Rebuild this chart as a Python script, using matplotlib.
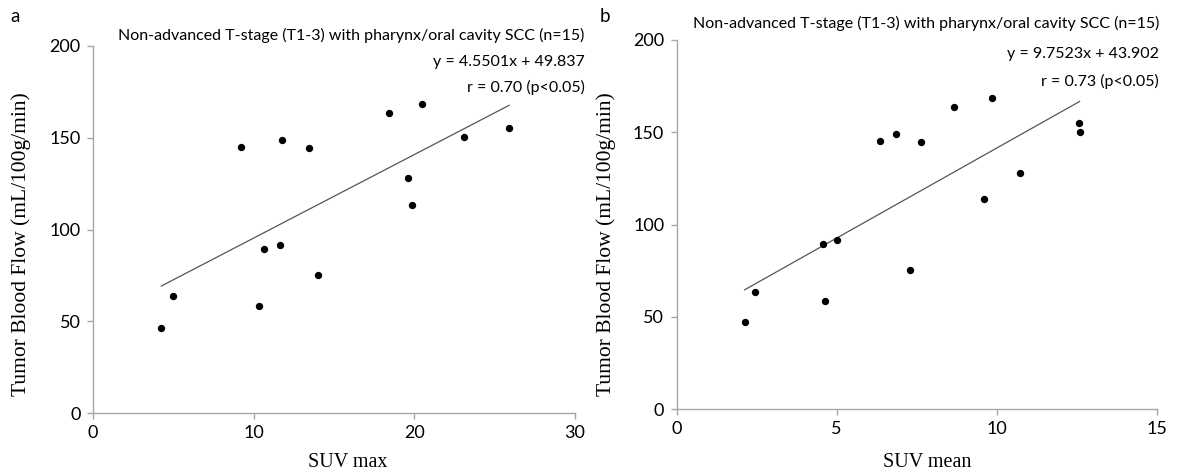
import numpy as np
import matplotlib
matplotlib.use('Agg')
import matplotlib.pyplot as plt

# panel a: SUV max vs tumor blood flow
suv_max = [4.25, 4.96, 9.23, 10.33, 10.66, 11.66, 11.76, 13.46, 14.0,
           18.44, 19.62, 19.83, 20.45, 23.1, 25.9]
tbf_a = [46.3, 63.6, 145.1, 58.5, 89.4, 91.4, 148.8, 144.2, 75.0,
         163.5, 128.1, 113.5, 168.6, 150.2, 155.3]
fit_a = (4.5501, 49.837)

# panel b: SUV mean vs tumor blood flow
suv_mean = [2.12, 2.46, 4.58, 4.64, 5.0, 6.35, 6.86, 7.30, 7.63,
            8.66, 9.59, 9.85, 10.74, 12.57, 12.59]
tbf_b = [47.0, 63.4, 89.6, 58.5, 91.6, 145.4, 148.9, 75.3, 144.5,
         163.7, 113.7, 168.4, 128.1, 155.0, 150.3]
fit_b = (9.7523, 43.902)

title = 'Non-advanced T-stage (T1-3) with pharynx/oral cavity SCC (n=15)'
eq_a = 'y = 4.5501x + 49.837'
r_a = 'r = 0.70 (p<0.05)'
eq_b = 'y = 9.7523x + 43.902'
r_b = 'r = 0.73 (p<0.05)'

W, H = 1178, 474
fig = plt.figure(figsize=(W / 100, H / 100), dpi=100)

sans = ['Lato', 'DejaVu Sans']
serif = ['Liberation Serif', 'DejaVu Serif']
axis_grey = '#a6a6a6'


def panel(rect, xs, ys, fit, xmax, xstep, xlabel, text_y, ylab_pos, xlab_pos):
    ax = fig.add_axes(rect)
    ax.scatter(xs, ys, s=28, color='black', zorder=3, linewidths=0)
    x0, x1 = min(xs), max(xs)
    ax.plot([x0, x1], [fit[0] * x0 + fit[1], fit[0] * x1 + fit[1]],
            color='#555555', lw=0.9)
    ax.set_xlim(0, xmax)
    ax.set_ylim(0, 200)
    ax.set_xticks(np.arange(0, xmax + 1, xstep))
    ax.set_yticks(np.arange(0, 201, 50))
    for s in ['top', 'right']:
        ax.spines[s].set_visible(False)
    for s in ['left', 'bottom']:
        ax.spines[s].set_color(axis_grey)
        ax.spines[s].set_linewidth(1.0)
    ax.tick_params(direction='out', length=4, width=1.0, color=axis_grey,
                   labelsize=13, pad=5)
    for lab in ax.get_xticklabels() + ax.get_yticklabels():
        lab.set_family(sans)
    ax.set_xlabel(xlabel, family=serif, fontsize=14.5)
    ax.set_ylabel('Tumor Blood Flow (mL/100g/min)', family=serif, fontsize=15.5)
    ax.xaxis.set_label_coords(*xlab_pos)
    ax.yaxis.set_label_coords(*ylab_pos)
    for txt, ty in zip(text_y[0], text_y[1]):
        ax.text(text_y[2], ty, txt, transform=ax.transAxes, ha='right',
                va='center', family=sans, fontsize=11.5)
    return ax


axa = panel([93 / W, 1 - 413 / H, 482 / W, 367 / H], suv_max, tbf_a, fit_a, 30, 10,
            'SUV max', ([title, eq_a, r_a], [1.03, 0.957, 0.886], 1.02),
            (-0.128, 0.46), (0.529, -0.11))
axb = panel([676.7 / W, 1 - 409 / H, 480 / W, 369 / H], suv_mean, tbf_b, fit_b, 15, 5,
            'SUV mean', ([title, eq_b, r_b], [1.045, 0.963, 0.888], 1.005),
            (-0.127, 0.446), (0.522, -0.12))

fig.text(10 / W, 1 - 16 / H, 'a', family=sans, fontsize=13.5, va='center', ha='left')
fig.text(600 / W, 1 - 16 / H, 'b', family=sans, fontsize=13.5, va='center', ha='left')

fig.savefig('out.png', dpi=100)
